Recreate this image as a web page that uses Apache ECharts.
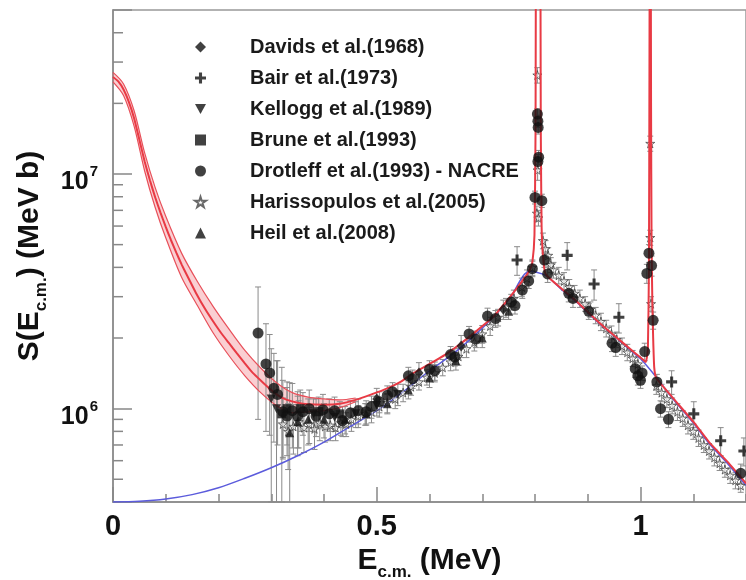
<!DOCTYPE html>
<html><head><meta charset="utf-8">
<script src="https://cdn.jsdelivr.net/npm/echarts@6/dist/echarts.min.js"></script>
<style>html,body{margin:0;padding:0;background:#fff}#c{width:746px;height:580px}</style>
</head><body><div id="c"></div>
<script>
// ---------- data (E in MeV, S in MeV b, err in MeV b) ----------
const legendNames = ['Davids et al.(1968)','Bair et al.(1973)','Kellogg et al.(1989)','Brune et al.(1993)','Drotleff et al.(1993) - NACRE','Harissopulos et al.(2005)','Heil et al.(2008)'];

const davids = [[0.50,1.10e6,0.12e6],[0.58,1.42e6,0.15e6],[0.66,1.85e6,0.2e6],[0.74,2.65e6,0.25e6]];
const bair = [[0.766,4.3e6,0.6e6],[0.861,4.5e6,0.6e6],[0.912,3.4e6,0.5e6],[0.959,2.45e6,0.35e6],[1.059,1.3e6,0.15e6],[1.101,9.5e5,0.12e6],[1.152,7.3e5,0.1e6],[1.196,6.6e5,0.09e6]];
const kellogg = [[0.30,1.1e6,0.7e6],[0.31,1.0e6,0.6e6],[0.38,0.95e6,0.15e6],[0.42,0.92e6,0.12e6],[0.46,0.95e6,0.12e6],[0.50,1.03e6,0.1e6],[0.54,1.15e6,0.12e6]];
const brune = [[0.32,0.95e6,0.55e6],[0.33,1.0e6,0.3e6],[0.355,1.0e6,0.2e6],[0.39,0.97e6,0.15e6],[0.43,0.95e6,0.12e6]];
const drotleff = [[0.275,2.1e6,1.2e6],[0.290,1.55e6,0.75e6],[0.297,1.42e6,0.65e6],[0.305,1.22e6,0.5e6],[0.312,1.15e6,0.45e6],[0.322,0.97e6,0.35e6],[0.330,0.93e6,0.3e6],[0.340,0.98e6,0.3e6],[0.350,0.93e6,0.25e6],[0.360,0.97e6,0.2e6],[0.372,1.0e6,0.2e6],[0.385,0.93e6,0.17e6],[0.398,0.99e6,0.16e6],[0.41,0.95e6,0.15e6],[0.42,0.98e6,0.14e6],[0.435,0.89e6,0.13e6],[0.45,0.96e6,0.12e6],[0.465,0.98e6,0.12e6],[0.48,0.97e6,0.11e6],[0.49,1.02e6,0.11e6],[0.505,1.07e6,0.11e6],[0.52,1.14e6,0.11e6],[0.53,1.18e6,0.11e6],[0.56,1.38e6,0.12e6],[0.568,1.34e6,0.12e6],[0.60,1.47e6,0.13e6],[0.61,1.45e6,0.13e6],[0.64,1.70e6,0.14e6],[0.648,1.66e6,0.14e6],[0.675,2.08e6,0.16e6],[0.688,1.98e6,0.16e6],[0.71,2.48e6,0.2e6],[0.725,2.42e6,0.2e6],[0.755,2.85e6,0.22e6],[0.762,2.75e6,0.22e6],[0.776,3.2e6,0.25e6],[0.788,3.5e6,0.25e6],[0.795,3.95e6,0.3e6],[0.8045,1.8e7,1e6],[0.8055,1.68e7,1e6],[0.806,1.58e7,1e6],[0.807,1.18e7,0.8e6],[0.8055,1.13e7,0.8e6],[0.800,7.95e6,0.5e6],[0.813,7.7e6,0.5e6],[0.818,4.3e6,0.3e6],[0.824,3.75e6,0.3e6],[0.864,3.1e6,0.25e6],[0.872,2.95e6,0.25e6],[0.902,2.6e6,0.2e6],[0.946,1.9e6,0.15e6],[0.953,1.82e6,0.15e6],[0.99,1.48e6,0.12e6],[0.995,1.38e6,0.12e6],[1.0,1.32e6,0.1e6],[1.003,1.42e6,0.1e6],[1.008,1.75e6,0.15e6],[1.016,4.6e6,0.4e6],[1.021,4.07e6,0.4e6],[1.012,3.77e6,0.35e6],[1.024,2.38e6,0.2e6],[1.031,1.3e6,0.1e6],[1.038,1.0e6,0.08e6],[1.053,9.0e5,0.07e6],[1.19,5.3e5,0.05e6]];
const harissopulos = [[0.322,0.86e6,0.25e6],[0.332,0.80e6,0.25e6],[0.342,0.84e6,0.2e6],[0.352,0.88e6,0.2e6],[0.362,0.83e6,0.18e6],[0.372,0.86e6,0.15e6],[0.382,0.82e6,0.15e6],[0.392,0.87e6,0.14e6],[0.402,0.84e6,0.12e6],[0.412,0.85e6,0.12e6],[0.422,0.83e6,0.1e6],[0.432,0.87e6,0.1e6],[0.442,0.86e6,0.1e6],[0.452,0.9e6,0.1e6],[0.465,0.93e6,0.1e6],[0.478,0.95e6,0.1e6],[0.49,0.97e6,0.1e6],[0.505,1.02e6,0.1e6],[0.52,1.06e6,0.1e6],[0.535,1.10e6,0.1e6],[0.55,1.17e6,0.1e6],[0.565,1.24e6,0.1e6],[0.58,1.3e6,0.1e6],[0.595,1.36e6,0.1e6],[0.61,1.42e6,0.12e6],[0.625,1.5e6,0.12e6],[0.64,1.58e6,0.13e6],[0.655,1.67e6,0.14e6],[0.67,1.8e6,0.15e6],[0.685,1.92e6,0.16e6],[0.70,2.08e6,0.18e6],[0.715,2.25e6,0.2e6],[0.73,2.45e6,0.2e6],[0.745,2.7e6,0.25e6],[0.76,2.95e6,0.25e6],[0.775,3.3e6,0.3e6],[0.785,3.6e6,0.3e6],[0.795,4.0e6,0.3e6],[0.8045,2.64e7,2e6],[0.805,1.04e7,1e6],[0.8035,6.8e6,0.5e6],[0.8065,6.5e6,0.5e6],[0.815,5.2e6,0.4e6],[0.82,4.8e6,0.4e6],[0.825,4.5e6,0.35e6],[0.83,4.1e6,0.3e6],[0.835,3.9e6,0.3e6],[0.845,3.7e6,0.3e6],[0.855,3.5e6,0.3e6],[0.865,3.3e6,0.25e6],[0.875,3.1e6,0.25e6],[0.885,2.95e6,0.25e6],[0.895,2.8e6,0.2e6],[0.905,2.65e6,0.2e6],[0.915,2.5e6,0.2e6],[0.925,2.35e6,0.2e6],[0.935,2.2e6,0.18e6],[0.945,2.08e6,0.17e6],[0.955,1.97e6,0.15e6],[0.965,1.85e6,0.15e6],[0.975,1.74e6,0.14e6],[0.985,1.64e6,0.13e6],[0.995,1.55e6,0.12e6],[1.0185,1.35e7,1e6],[1.0185,5.36e6,0.4e6],[1.020,2.8e6,0.2e6],[1.03,1.25e6,0.1e6],[1.04,1.17e6,0.1e6],[1.05,1.1e6,0.09e6],[1.06,1.03e6,0.08e6],[1.07,9.7e5,0.08e6],[1.08,9.1e5,0.07e6],[1.09,8.5e5,0.07e6],[1.10,8.0e5,0.06e6],[1.11,7.5e5,0.06e6],[1.12,7.0e5,0.05e6],[1.13,6.6e5,0.05e6],[1.14,6.2e5,0.05e6],[1.15,5.85e5,0.04e6],[1.16,5.5e5,0.04e6],[1.17,5.2e5,0.04e6],[1.18,4.95e5,0.04e6],[1.19,4.7e5,0.03e6]];
const heil = [[0.335,7.9e5,5e5],[0.35,0.88e6,0.25e6],[0.37,0.9e6,0.2e6],[0.40,0.9e6,0.15e6],[0.44,0.9e6,0.12e6],[0.48,0.95e6,0.1e6],[0.52,1.05e6,0.1e6],[0.56,1.2e6,0.1e6],[0.60,1.35e6,0.12e6],[0.65,1.6e6,0.14e6],[0.70,2.0e6,0.18e6],[0.75,2.6e6,0.2e6]];

const redCurve = [[0,2.59e7],[0.01,2.48e7],[0.02,2.29e7],[0.03,2.03e7],[0.04,1.73e7],[0.05,1.4e7],[0.06,1.13e7],[0.07,9.4e6],[0.08,7.95e6],[0.09,6.85e6],[0.10,5.95e6],[0.11,5.22e6],[0.12,4.62e6],[0.13,4.12e6],[0.14,3.71e6],[0.157,3.12e6],[0.175,2.65e6],[0.19,2.35e6],[0.205,2.1e6],[0.22,1.9e6],[0.235,1.72e6],[0.25,1.56e6],[0.265,1.42e6],[0.283,1.3e6],[0.3,1.2e6],[0.315,1.13e6],[0.33,1.09e6],[0.35,1.06e6],[0.37,1.045e6],[0.4,1.04e6],[0.43,1.05e6],[0.46,1.09e6],[0.49,1.15e6],[0.52,1.22e6],[0.545,1.3e6],[0.57,1.42e6],[0.6,1.55e6],[0.63,1.7e6],[0.66,1.9e6],[0.69,2.15e6],[0.72,2.45e6],[0.745,2.85e6],[0.765,3.25e6],[0.78,3.6e6],[0.79,3.9e6],[0.795,4.2e6],[0.799,5.5e6],[0.801,1.5e7],[0.8015,5e7],[0.803,2e8],[0.806,1e9],[0.809,2e8],[0.8105,5e7],[0.811,1.5e7],[0.8125,6e6],[0.815,4.5e6],[0.82,3.75e6],[0.85,3.25e6],[0.88,2.85e6],[0.915,2.4e6],[0.95,2.05e6],[0.98,1.8e6],[1.0,1.65e6],[1.01,1.58e6],[1.014,1.8e6],[1.016,4e6],[1.017,3e7],[1.0185,1e9],[1.02,2e7],[1.021,5e6],[1.0225,2.8e6],[1.024,2e6],[1.026,1.5e6],[1.03,1.35e6],[1.06,1.12e6],[1.1,8.8e5],[1.13,7.2e5],[1.166,5.9e5],[1.2,4.8e5]];
const blueCurve = [[0,4.0e5],[0.05,4.03e5],[0.1,4.12e5],[0.15,4.3e5],[0.2,4.6e5],[0.25,5.05e5],[0.3,5.6e5],[0.35,6.3e5],[0.4,7.2e5],[0.45,8.4e5],[0.5,9.8e5],[0.55,1.18e6],[0.6,1.45e6],[0.65,1.75e6],[0.7,2.2e6],[0.75,2.9e6],[0.79,3.85e6],[0.82,3.7e6],[0.85,3.22e6],[0.88,2.83e6],[0.915,2.38e6],[0.95,2.03e6],[0.98,1.78e6],[1.0,1.63e6],[1.03,1.36e6],[1.06,1.11e6],[1.1,8.7e5],[1.13,7.1e5],[1.166,5.8e5],[1.2,4.7e5]];
const bandE = [0,0.02,0.04,0.06,0.08,0.10,0.13,0.16,0.19,0.22,0.25,0.28,0.31,0.34,0.37,0.40,0.43,0.46];
const bandUpper = [2.71e7,2.42e7,1.86e7,1.23e7,8.75e6,6.6e6,4.6e6,3.48e6,2.72e6,2.18e6,1.77e6,1.49e6,1.29e6,1.17e6,1.12e6,1.10e6,1.09e6,1.11e6];
const bandLower = [2.47e7,2.16e7,1.6e7,1.03e7,7.2e6,5.35e6,3.63e6,2.75e6,2.1e6,1.68e6,1.38e6,1.17e6,1.03e6,0.96e6,0.97e6,0.98e6,1.01e6,1.07e6];

const xMajorTicks = [0, 0.5, 1];
const xTickLabels = ['0', '0.5', '1'];
const yMinorTicks = [5e5,6e5,7e5,8e5,9e5,2e6,3e6,4e6,5e6,6e6,7e6,8e6,9e6,2e7,3e7,4e7];

// ---------- chart ----------
const FONT = '"Liberation Sans", Arial, Helvetica, sans-serif';
const chart = echarts.init(document.getElementById('c'), null, {renderer: 'canvas'});
const STAR = 'path://M50,0 L61,35 L98,35 L68,57 L79,91 L50,70 L21,91 L32,57 L2,35 L39,35 Z';
const PLUS = 'path://M36,0 H64 V36 H100 V64 H64 V100 H36 V64 H0 V36 H36 Z';
const DOWNTRI = 'path://M0,0 L100,0 L50,90 Z';

const allPoints = [].concat(davids, bair, kellogg, brune, drotleff, harissopulos, heil);

function errRender(params, api) {
  const cs = params.coordSys;
  const x = api.value(0), y = api.value(1), e = api.value(2);
  const pTop = api.coord([x, y + e]);
  const pBot = api.coord([x, Math.max(y - e, 1e4)]);
  const px = pTop[0];
  if (px < cs.x || px > cs.x + cs.width) return null;
  const clamp = v => Math.min(cs.y + cs.height, Math.max(cs.y, v));
  const t = clamp(pTop[1]), b = clamp(pBot[1]);
  const style = {stroke: '#8a8a8a', lineWidth: 1};
  const ch = [{type: 'line', shape: {x1: px, y1: t, x2: px, y2: b}, style}];
  if (pTop[1] >= cs.y) ch.push({type: 'line', shape: {x1: px - 3, y1: t, x2: px + 3, y2: t}, style});
  if (pBot[1] <= cs.y + cs.height) ch.push({type: 'line', shape: {x1: px - 3, y1: b, x2: px + 3, y2: b}, style});
  return {type: 'group', children: ch};
}

function pts(arr) { return arr.map(d => [d[0], d[1]]); }

const nameRich = {
  b: {fontFamily: FONT, fontWeight: 'bold', fontSize: 30, color: '#111', lineHeight: 33, verticalAlign: 'top'},
  s: {fontFamily: FONT, fontWeight: 'bold', fontSize: 17, color: '#111', lineHeight: 17, padding: [18, 0, 0, 0], verticalAlign: 'top'}
};

const option = {
  animation: false,
  backgroundColor: '#fff',
  grid: {left: 113, top: 10, width: 633, height: 492, containLabel: false, outerBoundsMode: 'none',
         show: true, borderColor: '#999', borderWidth: 1.5, backgroundColor: 'transparent'},
  legend: {
    data: legendNames,
    orient: 'vertical', left: 189, top: 32,
    itemWidth: 11, itemHeight: 11, itemGap: 11,
    textStyle: {fontFamily: FONT, fontWeight: 'bold', fontSize: 20, color: '#1a1a1a', padding: [0, 0, 0, 39]},
    selectedMode: false
  },
  xAxis: [
    {type: 'value', min: 0, max: 1.2, interval: 0.5, position: 'bottom',
     axisLine: {lineStyle: {color: '#888', width: 1.5}},
     axisTick: {inside: true, length: 15, lineStyle: {color: '#888', width: 1.5}},
     splitLine: {show: false},
     axisLabel: {margin: 10, fontFamily: FONT, fontWeight: 'bold', fontSize: 29, color: '#111',
       showMaxLabel: false,
       formatter: v => { const i = xMajorTicks.findIndex(t => Math.abs(t - v) < 1e-9); return i >= 0 ? xTickLabels[i] : ''; }},
     name: '{b|E}{s|c.m.}{b| (MeV)}', nameLocation: 'middle', nameGap: 44,
     nameTextStyle: {rich: nameRich}},
    {type: 'value', min: 0, max: 1.2, interval: 0.1, position: 'bottom',
     axisLine: {show: false},
     axisTick: {inside: true, length: 8, lineStyle: {color: '#888', width: 1.5}},
     axisLabel: {show: false}, splitLine: {show: false}}
  ],
  yAxis: {
    type: 'log', logBase: 10, min: 4e5, max: 5e7,
    axisLine: {lineStyle: {color: '#888', width: 1.5}},
    axisTick: {inside: true, length: 19, lineStyle: {color: '#888', width: 1.5}},
    splitLine: {show: false}, minorTick: {show: false},
    axisLabel: {margin: 15, padding: [16, 0, 0, 0],
      formatter: v => { const ex = Math.round(Math.log10(v)); return Math.abs(v - Math.pow(10, ex)) / v < 1e-6 ? '{b|10}{s|' + ex + '}' : ''; },
      rich: {
        b: {fontFamily: FONT, fontWeight: 'bold', fontSize: 25, color: '#111', lineHeight: 25, verticalAlign: 'bottom'},
        s: {fontFamily: FONT, fontWeight: 'bold', fontSize: 15, color: '#111', lineHeight: 15, padding: [4, 0, 15, 1], verticalAlign: 'bottom'}
      }},
    name: '{b|S(E}{s|c.m.}{b|) (MeV b)}', nameLocation: 'middle', nameGap: 60,
    nameTextStyle: {rich: nameRich}
  },
  series: [
    {type: 'custom', name: 'yminor', z: 1, silent: true, data: yMinorTicks.map(v => [0, v]),
     renderItem: (params, api) => { const cs = params.coordSys; const p = api.coord([0, api.value(1)]);
       return {type: 'line', shape: {x1: cs.x, y1: p[1], x2: cs.x + 10, y2: p[1]}, style: {stroke: '#888', lineWidth: 1.5}}; }},
    {type: 'custom', name: 'band', z: 2, silent: true, data: [[0, bandUpper[0]]],
     renderItem: (params, api) => {
       const up = bandE.map((e, i) => api.coord([e, bandUpper[i]]));
       const lo = bandE.map((e, i) => api.coord([e, bandLower[i]])).reverse();
       return {type: 'polygon', shape: {points: up.concat(lo), smooth: 0.3}, style: {fill: 'rgba(238,95,105,0.3)', stroke: 'none'}};
     }},
    {type: 'custom', name: 'errors', z: 2, silent: true, data: allPoints, renderItem: errRender},
    {type: 'line', name: 'blue', z: 3, data: blueCurve, showSymbol: false, smooth: 0.3, lineStyle: {color: '#5b5bdc', width: 1.5}},
    {type: 'line', name: 'bandUp', z: 3, data: bandE.map((e, i) => [e, bandUpper[i]]), showSymbol: false, smooth: 0.3, lineStyle: {color: '#e8505a', width: 1.2}},
    {type: 'line', name: 'bandLo', z: 3, data: bandE.map((e, i) => [e, bandLower[i]]), showSymbol: false, smooth: 0.3, lineStyle: {color: '#e8505a', width: 1.2}},
    {type: 'scatter', name: legendNames[5], z: 4, data: pts(harissopulos), symbol: STAR, symbolSize: 9,
     itemStyle: {color: 'rgba(255,255,255,0.6)', borderColor: '#444', borderWidth: 1}},
    {type: 'line', name: 'red', z: 5, data: redCurve, showSymbol: false, smooth: 0.15, lineStyle: {color: '#e83a44', width: 2}},
    {type: 'scatter', name: legendNames[0], z: 6, data: pts(davids), symbol: 'diamond', symbolSize: [9, 11], itemStyle: {color: '#111'}},
    {type: 'scatter', name: legendNames[1], z: 6, data: pts(bair), symbol: PLUS, symbolSize: 11, itemStyle: {color: '#111'}},
    {type: 'scatter', name: legendNames[2], z: 6, data: pts(kellogg), symbol: DOWNTRI, symbolSize: 9, itemStyle: {color: '#111'}},
    {type: 'scatter', name: legendNames[3], z: 6, data: pts(brune), symbol: 'rect', symbolSize: 9, itemStyle: {color: '#111'}},
    {type: 'scatter', name: legendNames[4], z: 6, data: pts(drotleff), symbol: 'circle', symbolSize: 11, itemStyle: {color: '#111'}},
    {type: 'scatter', name: legendNames[6], z: 6, data: pts(heil), symbol: 'triangle', symbolSize: 9, itemStyle: {color: '#111'}}
  ]
};
chart.setOption(option);
</script>
</body></html>
